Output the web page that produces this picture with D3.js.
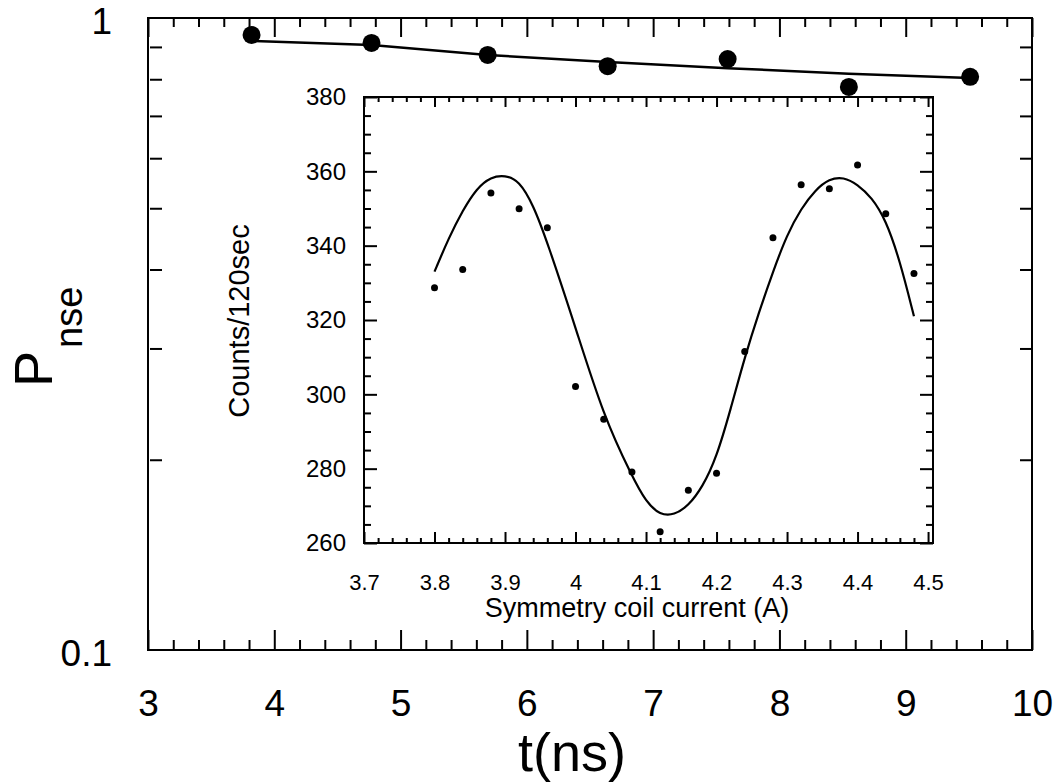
<!DOCTYPE html>
<html>
<head>
<meta charset="utf-8">
<script src="https://cdn.jsdelivr.net/npm/d3@7"></script>
<style>
body { margin: 0; background: #fff; }
svg { display: block; font-family: "Liberation Sans", Arial, Helvetica, sans-serif; }
.domain { display: none; }
.tick line { stroke: #000; stroke-width: 2; }
</style>
</head>
<body>
<div id="chart"></div>
<script>
let width = 1061;
let height = 782;

// Main plot: P_nse against t(ns)
let timeValues = [3.82, 4.77, 5.69, 6.64, 7.59, 8.55, 9.51];
let pnseValues = [0.940, 0.913, 0.874, 0.839, 0.861, 0.778, 0.807];
let fitTime = [3.82, 4.77, 5.69, 6.64, 7.59, 8.55, 9.51];
let fitPnse = [0.920, 0.906, 0.874, 0.852, 0.833, 0.816, 0.804];
let timeTicks = [3, 4, 5, 6, 7, 8, 9, 10];
let pnseTicks = [0.1, 1];

// Inset: counts against symmetry coil current
let coilCurrent = [3.80, 3.84, 3.88, 3.92, 3.96, 4.00, 4.04, 4.08, 4.12, 4.16, 4.20, 4.24, 4.28, 4.32, 4.36, 4.40, 4.44, 4.48];
let counts = [328.7, 333.6, 354.2, 349.9, 344.8, 302.1, 293.3, 279.1, 263.0, 274.2, 278.8, 311.5, 342.1, 356.4, 355.3, 361.7, 348.6, 332.5];
let fitCurrent = [3.80, 3.82, 3.84, 3.86, 3.88, 3.90, 3.92, 3.94, 3.96, 4.00, 4.04, 4.08, 4.10, 4.12, 4.14, 4.16, 4.18, 4.20, 4.22, 4.24, 4.26, 4.28, 4.30, 4.32, 4.34, 4.36, 4.38, 4.40, 4.42, 4.44, 4.46, 4.48];
let fitCounts = [333, 342, 349.5, 355.5, 358.5, 359, 357.5, 351, 341, 318, 294, 278, 271, 267.5, 267.5, 270, 275, 283, 296, 310, 322, 333, 343, 350, 355, 358, 358.5, 356.5, 353, 347, 336, 321];
let currentTicks = [3.7, 3.8, 3.9, 4, 4.1, 4.2, 4.3, 4.4, 4.5];
let countTicks = [260, 280, 300, 320, 340, 360, 380];

let svg = d3.select("#chart").append("svg")
    .attr("width", width)
    .attr("height", height);

// ---------- main plot ----------
let mx = d3.scaleLinear().domain([3, 10]).range([148, 1032]);
let my = d3.scaleLog().domain([0.1, 1]).range([650, 18]);

let minorT = d3.range(30, 101, 2).map(d => d / 10).filter(d => d % 1 != 0);
let minorP = d3.range(2, 10).map(d => d / 10);

// bottom axis
svg.append("g").attr("transform", "translate(0,650)")
    .call(d3.axisBottom(mx).tickValues(timeTicks).tickSize(-20).tickPadding(40).tickFormat(d3.format("d")))
    .call(g => g.selectAll("text").attr("font-size", 37).attr("fill", "#000"));
svg.append("g").attr("transform", "translate(0,650)")
    .call(d3.axisBottom(mx).tickValues(minorT).tickSize(-10).tickFormat(""));

// top axis
svg.append("g").attr("transform", "translate(0,18)")
    .call(d3.axisTop(mx).tickValues(timeTicks).tickSize(-19).tickFormat(""));
svg.append("g").attr("transform", "translate(0,18)")
    .call(d3.axisTop(mx).tickValues(minorT).tickSize(-9).tickFormat(""));

// left / right axes
svg.append("g").attr("transform", "translate(150,0)")
    .call(d3.axisLeft(my).tickValues(pnseTicks).tickSize(0).tickPadding(38).tickFormat(d => d == 1 ? "1" : "0.1"))
    .call(g => g.selectAll("text").attr("font-size", 37).attr("fill", "#000").attr("dy", "0.42em"));
svg.append("g").attr("transform", "translate(150,0)")
    .call(d3.axisLeft(my).tickValues(minorP).tickSize(-12).tickFormat(""));
svg.append("g").attr("transform", "translate(1032,0)")
    .call(d3.axisRight(my).tickValues(minorP).tickSize(-12).tickFormat(""));

// frame
svg.append("rect")
    .attr("x", mx(3)).attr("y", my(1))
    .attr("width", mx(10) - mx(3)).attr("height", my(0.1) - my(1))
    .attr("fill", "none").attr("stroke", "#000").attr("stroke-width", 2);

// fit line and points
svg.append("path")
    .datum(d3.zip(fitTime, fitPnse))
    .attr("fill", "none").attr("stroke", "#000").attr("stroke-width", 2.5)
    .attr("d", d3.line().x(d => mx(d[0])).y(d => my(d[1])));

svg.append("g").selectAll("circle")
    .data(d3.zip(timeValues, pnseValues))
    .enter().append("circle")
    .attr("cx", d => mx(d[0])).attr("cy", d => my(d[1]))
    .attr("r", 9).attr("fill", "#000");

// axis titles
svg.append("text")
    .attr("x", 572).attr("y", 771)
    .attr("text-anchor", "middle")
    .attr("font-size", 54)
    .text("t(ns)");

let ytitle = svg.append("g").attr("transform", "translate(52,387) rotate(-90)");
ytitle.append("text").attr("x", 0).attr("y", 0).attr("font-size", 54).text("P");
ytitle.append("text").attr("x", 39).attr("y", 30).attr("font-size", 38).text("nse");

// ---------- inset ----------
let ix = d3.scaleLinear().domain([3.7, 4.507]).range([364, 933]);
let iy = d3.scaleLinear().domain([260, 380]).range([543, 97]);

let inset = svg.append("g");

inset.append("rect")
    .attr("x", ix(3.7)).attr("y", iy(380))
    .attr("width", ix(4.507) - ix(3.7)).attr("height", iy(260) - iy(380))
    .attr("fill", "#fff").attr("stroke", "#000").attr("stroke-width", 2);

let minorC = d3.range(372, 451, 2).map(d => d / 100).filter(d => Math.round(d * 100) % 10 != 0);
let minorN = d3.range(265, 380, 5).filter(d => d % 20 != 0);

inset.append("g").attr("transform", "translate(0," + iy(260) + ")")
    .call(d3.axisBottom(ix).tickValues(currentTicks).tickSize(-11).tickPadding(31).tickFormat(d => d == 4 ? "4" : d3.format(".1f")(d)))
    .call(g => g.selectAll("text").attr("font-size", 22).attr("fill", "#000"));
inset.append("g").attr("transform", "translate(0," + iy(260) + ")")
    .call(d3.axisBottom(ix).tickValues(minorC).tickSize(-5).tickFormat(""));
inset.append("g").attr("transform", "translate(0," + iy(380) + ")")
    .call(d3.axisTop(ix).tickValues(currentTicks).tickSize(-10).tickFormat(""));
inset.append("g").attr("transform", "translate(0," + iy(380) + ")")
    .call(d3.axisTop(ix).tickValues(minorC).tickSize(-5).tickFormat(""));

inset.append("g").attr("transform", "translate(" + ix(3.7) + ",0)")
    .call(d3.axisLeft(iy).tickValues(countTicks).tickSize(-13).tickPadding(18))
    .call(g => g.selectAll("text").attr("font-size", 24).attr("fill", "#000"));
inset.append("g").attr("transform", "translate(" + ix(3.7) + ",0)")
    .call(d3.axisLeft(iy).tickValues(minorN).tickSize(-7).tickFormat(""));
inset.append("g").attr("transform", "translate(" + ix(4.507) + ",0)")
    .call(d3.axisRight(iy).tickValues(countTicks).tickSize(-13).tickFormat(""));
inset.append("g").attr("transform", "translate(" + ix(4.507) + ",0)")
    .call(d3.axisRight(iy).tickValues(minorN).tickSize(-7).tickFormat(""));

inset.selectAll(".tick line").attr("stroke-width", 1.5);

// fit curve
inset.append("path")
    .datum(d3.zip(fitCurrent, fitCounts))
    .attr("fill", "none").attr("stroke", "#000").attr("stroke-width", 2.2)
    .attr("d", d3.line().curve(d3.curveBasis).x(d => ix(d[0])).y(d => iy(d[1])));

inset.append("g").selectAll("circle")
    .data(d3.zip(coilCurrent, counts))
    .enter().append("circle")
    .attr("cx", d => ix(d[0])).attr("cy", d => iy(d[1]))
    .attr("r", 3.5).attr("fill", "#000");

// inset titles
inset.append("text")
    .attr("x", 637).attr("y", 617)
    .attr("text-anchor", "middle")
    .attr("font-size", 27)
    .text("Symmetry coil current (A)");

inset.append("text")
    .attr("transform", "translate(249,321) rotate(-90)")
    .attr("text-anchor", "middle")
    .attr("font-size", 29)
    .text("Counts/120sec");
</script>
</body>
</html>
